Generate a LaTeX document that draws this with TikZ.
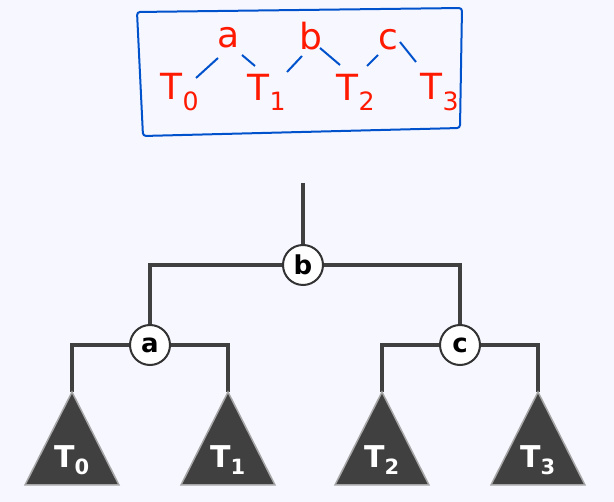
\documentclass[tikz,border=0pt]{standalone}
\usepackage{fontspec}
\setmainfont{DejaVu Sans}
\begin{document}
\begin{tikzpicture}[x=1pt,y=-1pt,
  hand/.style={text=red!80!orange, font=\fontsize{36}{36}\selectfont, inner sep=0pt},
  stroke/.style={draw=blue!60!cyan!80!black, line width=2pt},
  edge/.style={draw=black!75, line width=4pt},
  key/.style={circle, draw=black!80, line width=2pt, fill=white, minimum size=40pt, inner sep=0pt, font=\bfseries\fontsize{26}{26}\selectfont},
  tri/.style={draw=black!35, line width=1.5pt, fill=black!75}]
\fill[blue!3] (0,0) rectangle (614,502);
\useasboundingbox (0,0) rectangle (614,502);
% sketch box
\draw[stroke, rounded corners=3pt] (137,12) -- (462,8) -- (460,128) -- (143,136) -- cycle;
\node[hand] (ha) at (229,38) {a};
\node[hand] (hb) at (311,36) {b};
\node[hand] (hc) at (388,40) {c};
\node[hand] (h0) at (180,92) {T\textsubscript{0}};
\node[hand] (h1) at (267,92) {T\textsubscript{1}};
\node[hand] (h2) at (356,92) {T\textsubscript{2}};
\node[hand] (h3) at (440,92) {T\textsubscript{3}};
\draw[stroke] (196,78) -- (218,58);
\draw[stroke] (242,55) -- (255,66);
\draw[stroke] (287,72) -- (302,56);
\draw[stroke] (320,48) -- (340,65);
\draw[stroke] (367,66) -- (378,55);
\draw[stroke] (400,42) -- (416,62);
% tree
\coordinate (top) at (303,183);
\node[key] (b) at (303,265) {b};
\node[key] (a) at (150,345) {a};
\node[key] (c) at (460,345) {c};
\coordinate (t0) at (72,392);
\coordinate (t1) at (228,392);
\coordinate (t2) at (382,392);
\coordinate (t3) at (538,392);
\draw[edge] (top) -- (b);
\draw[edge] (b) -- (a.north |- b) -- (a);
\draw[edge] (b) -- (c.north |- b) -- (c);
\draw[edge] (a) -- (t0 |- a) -- (t0);
\draw[edge] (a) -- (t1 |- a) -- (t1);
\draw[edge] (c) -- (t2 |- c) -- (t2);
\draw[edge] (c) -- (t3 |- c) -- (t3);
\foreach \t/\n in {t0/0,t1/1,t2/2,t3/3}{
  \draw[tri] (\t) -- ++(-47,93) -- ++(94,0) -- cycle;
  \node[text=white, font=\bfseries\fontsize{30}{30}\selectfont] (l\n) at ([yshift=-68pt]\t) {T\textsubscript{\n}};
}
\end{tikzpicture}
\end{document}
